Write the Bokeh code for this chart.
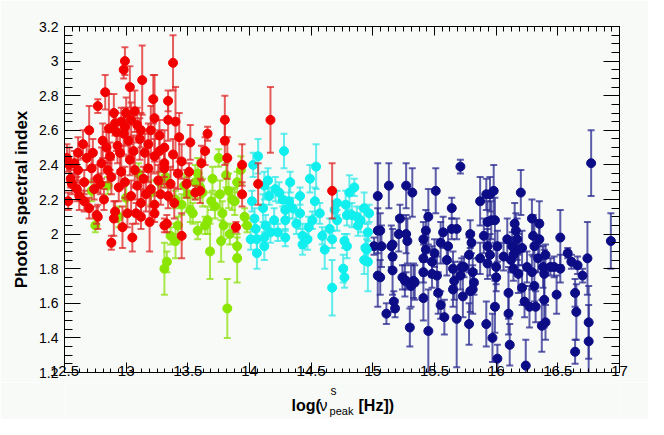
from bokeh.plotting import figure
from bokeh.layouts import column
from bokeh.models import (ColumnDataSource, LinearAxis, SingleIntervalTicker, NumeralTickFormatter,
                          CustomJSTickFormatter, Range1d)
from bokeh.core.properties import value
from bokeh.embed import file_html
from bokeh.resources import INLINE

# ---------------- data ----------------
red_x = [12.52, 12.53, 12.54, 12.56, 12.62, 12.61, 12.65, 12.70, 12.77, 12.83, 12.86, 12.90, 12.98, 12.99,
         13.03, 13.13, 13.22, 13.23, 13.34, 13.34, 13.38, 13.40, 13.43, 13.52, 13.66, 13.64, 13.61, 13.80,
         13.80, 13.82, 13.94, 13.94, 14.07, 14.17, 13.51, 13.56, 13.60, 14.67, 13.89, 12.76, 12.88, 12.97,
         13.05, 13.12, 13.19, 13.31, 13.33, 13.45, 12.90, 13.01, 13.09, 13.18, 13.31, 13.02, 12.92, 12.96,
         13.04, 13.00, 13.07, 12.91, 12.81, 12.73, 13.15, 13.23, 12.80, 12.58, 13.03, 13.31, 13.45, 12.95,
         13.11, 13.20, 13.27, 12.70, 12.77, 12.91, 12.55, 12.66, 12.77, 12.88, 12.99, 13.09, 13.20, 13.28,
         13.34, 13.39, 13.12, 13.23, 12.82, 13.04, 13.16, 12.61, 12.72, 12.85, 12.96, 13.07, 13.18, 13.31,
         13.42, 13.49, 13.08, 13.23, 12.68, 12.93, 12.98, 13.06, 12.87, 12.60, 12.74, 12.94, 13.14, 13.26,
         13.36, 12.84, 13.12, 12.99, 12.79, 13.27, 13.38, 12.66]
red_y = [2.44, 2.19, 2.40, 2.29, 2.22, 2.47, 2.52, 2.60, 2.74, 2.82, 2.61, 2.70, 2.95, 3.00,
         2.85, 2.89, 2.78, 2.67, 2.77, 2.66, 2.99, 2.65, 2.56, 2.53, 2.58, 2.48, 2.41, 2.66,
         2.54, 2.44, 2.40, 2.23, 2.29, 2.66, 2.36, 2.24, 2.25, 2.25, 2.04, 2.11, 1.95, 2.04,
         1.98, 2.10, 2.07, 2.05, 2.06, 1.99, 2.09, 2.12, 2.63, 2.52, 2.50, 2.54, 2.59, 2.65,
         2.66, 2.70, 2.71, 2.64, 2.54, 2.47, 2.47, 2.45, 2.41, 2.41, 2.43, 2.41, 2.42, 2.47,
         2.55, 2.60, 2.57, 2.15, 2.10, 2.13, 2.32, 2.30, 2.32, 2.33, 2.30, 2.28, 2.26, 2.23,
         2.22, 2.18, 2.18, 2.17, 2.20, 2.22, 2.23, 2.37, 2.38, 2.37, 2.36, 2.37, 2.38, 2.38,
         2.35, 2.29, 2.12, 2.12, 2.44, 2.51, 2.58, 2.48, 2.45, 2.26, 2.26, 2.27, 2.32, 2.31,
         2.29, 2.50, 2.60, 2.62, 2.29, 2.48, 2.46, 2.19]
red_err = [0.08, 0.05, 0.10, 0.06, 0.08, 0.09, 0.08, 0.14, 0.04, 0.10, 0.20, 0.11, 0.05, 0.08,
           0.12, 0.20, 0.14, 0.25, 0.06, 0.12, 0.16, 0.20, 0.14, 0.10, 0.04, 0.08, 0.10, 0.14,
           0.14, 0.12, 0.12, 0.07, 0.12, 0.19, 0.05, 0.04, 0.07, 0.16, 0.03, 0.05, 0.04, 0.12,
           0.08, 0.07, 0.17, 0.04, 0.05, 0.13, 0.10, 0.08, 0.10, 0.12, 0.10, 0.09, 0.11, 0.08,
           0.10, 0.09, 0.12, 0.07, 0.10, 0.08, 0.11, 0.10, 0.09, 0.07, 0.09, 0.08, 0.10, 0.10,
           0.12, 0.14, 0.09, 0.06, 0.07, 0.06, 0.05, 0.07, 0.08, 0.10, 0.09, 0.08, 0.10, 0.06,
           0.07, 0.09, 0.08, 0.07, 0.06, 0.09, 0.10, 0.06, 0.08, 0.07, 0.09, 0.10, 0.08, 0.11,
           0.09, 0.08, 0.06, 0.05, 0.07, 0.10, 0.12, 0.09, 0.08, 0.07, 0.06, 0.08, 0.07, 0.09,
           0.10, 0.09, 0.10, 0.11, 0.06, 0.12, 0.09, 0.06]

green_x = [12.75, 12.94, 13.31, 13.33, 13.36, 13.40, 13.42, 13.54, 13.58, 13.64, 13.68, 13.77, 13.79,
           13.82, 13.84, 13.90, 13.90, 13.96, 13.98, 13.78, 13.75, 13.69, 13.76, 13.83, 13.56, 13.90,
           13.81, 13.93, 13.32, 13.50, 13.45, 13.62, 13.52, 13.66, 13.72, 13.86, 13.88, 13.60, 12.72,
           12.85, 13.00, 13.10, 13.20, 13.27, 13.47, 13.58, 13.70, 13.40]
green_y = [2.05, 2.10, 1.80, 1.84, 1.99, 1.96, 2.05, 2.12, 2.02, 2.05, 1.90, 1.96, 2.05,
           1.57, 2.00, 1.93, 1.86, 2.10, 2.05, 2.12, 2.44, 2.19, 2.23, 2.25, 2.30, 2.30,
           2.34, 2.37, 2.33, 2.23, 2.17, 2.24, 2.14, 2.08, 2.16, 2.20, 2.19, 2.27, 2.25,
           2.28, 2.21, 2.35, 2.24, 2.30, 2.28, 2.35, 2.32, 2.20]
green_err = [0.04, 0.06, 0.15, 0.06, 0.05, 0.10, 0.05, 0.06, 0.05, 0.05, 0.16, 0.12, 0.08,
             0.17, 0.06, 0.05, 0.14, 0.05, 0.04, 0.07, 0.05, 0.05, 0.08, 0.10, 0.10, 0.06,
             0.07, 0.08, 0.06, 0.10, 0.06, 0.08, 0.07, 0.08, 0.07, 0.06, 0.08, 0.06, 0.06,
             0.05, 0.08, 0.06, 0.07, 0.06, 0.07, 0.09, 0.07, 0.05]

cyan_x = [14.07, 14.03, 14.28, 14.54, 14.49, 14.12, 14.21, 14.24, 14.32, 14.41, 14.53, 14.02, 14.11,
          14.29, 14.41, 14.57, 14.20, 14.04, 14.13, 14.29, 14.05, 14.17, 14.23, 14.48, 14.01, 14.06,
          14.12, 14.29, 14.43, 14.47, 14.59, 14.43, 14.12, 14.06, 14.61, 14.67, 14.65, 14.67, 14.71,
          14.71, 14.69, 14.76, 14.77, 14.77, 14.79, 14.78, 14.79, 14.81, 14.85, 14.83, 14.87, 14.90,
          14.88, 14.93, 14.95, 14.96, 14.93, 14.97, 14.96, 14.94, 14.16, 14.27, 14.35, 14.38, 14.51,
          14.15, 14.33]
cyan_y = [2.45, 2.40, 2.48, 2.39, 2.32, 2.28, 2.26, 2.24, 2.19, 2.22, 2.19, 2.19, 2.15,
          2.14, 2.12, 2.12, 2.08, 2.09, 2.05, 2.08, 2.03, 2.01, 2.01, 2.04, 1.97, 1.97,
          1.98, 1.98, 1.99, 1.97, 1.99, 1.94, 1.93, 1.89, 1.91, 1.69, 2.03, 1.97, 2.18,
          2.08, 2.14, 1.80, 1.75, 1.96, 1.93, 2.17, 2.11, 2.24, 2.27, 2.11, 2.10, 2.08,
          2.05, 2.15, 1.91, 1.84, 1.85, 2.12, 2.01, 1.92, 2.22, 2.20, 2.15, 2.06, 2.08,
          2.31, 2.30]
cyan_err = [0.10, 0.07, 0.10, 0.13, 0.08, 0.08, 0.07, 0.06, 0.10, 0.05, 0.08, 0.06, 0.08,
            0.07, 0.09, 0.06, 0.07, 0.06, 0.06, 0.06, 0.05, 0.06, 0.05, 0.06, 0.06, 0.07,
            0.06, 0.05, 0.07, 0.06, 0.05, 0.06, 0.08, 0.09, 0.11, 0.16, 0.06, 0.05, 0.07,
            0.06, 0.05, 0.08, 0.06, 0.04, 0.07, 0.08, 0.06, 0.10, 0.05, 0.07, 0.06, 0.07,
            0.06, 0.09, 0.06, 0.17, 0.08, 0.05, 0.05, 0.07, 0.05, 0.04, 0.06, 0.06, 0.05,
            0.07, 0.06]

navy_x = [15.04, 15.13, 15.04, 15.06, 15.01, 15.07, 15.04, 15.06, 15.11, 15.15, 15.16, 15.16, 15.17,
          15.18, 15.22, 15.21, 15.24, 15.27, 15.28, 15.27, 15.30, 15.32, 15.33, 15.31, 15.41, 15.41,
          15.41, 15.41, 15.43, 15.45, 15.45, 15.43, 15.48, 15.50, 15.51, 15.52, 15.53, 15.55, 15.57,
          15.58, 15.55, 15.60, 15.61, 15.64, 15.64, 15.65, 15.66, 15.68, 15.68, 15.71, 15.71, 15.72,
          15.73, 15.74, 15.79, 15.78, 15.79, 15.80, 15.81, 15.81, 15.82, 15.87, 15.87, 15.90, 15.92,
          15.93, 15.93, 15.93, 15.95, 15.95, 15.97, 15.98, 15.99, 15.99, 16.01, 16.01, 16.06, 16.09,
          16.10, 16.10, 16.11, 16.13, 16.14, 16.14, 16.16, 16.17, 16.18, 16.18, 16.20, 16.21, 16.23,
          16.24, 16.27, 16.29, 16.30, 16.31, 16.31, 16.32, 16.35, 16.37, 16.38, 16.39, 16.39, 16.40,
          16.40, 16.44, 16.47, 16.49, 16.52, 16.52, 16.58, 16.61, 16.64, 16.65, 16.64, 16.66, 16.70,
          16.74, 16.75, 16.75, 16.77, 16.93, 15.48, 15.65, 15.78, 16.00, 16.00, 15.92, 15.96, 16.12,
          16.15, 16.21, 16.25, 16.29, 16.34, 16.35, 15.16, 15.27, 15.26, 15.34]
navy_y = [2.22, 2.28, 2.02, 2.02, 1.93, 1.93, 1.76, 1.75, 1.54, 1.93, 1.87, 1.79, 1.61,
          1.57, 2.09, 2.00, 1.75, 2.28, 1.96, 1.73, 1.46, 2.24, 1.73, 1.70, 1.63, 1.97,
          1.86, 1.78, 2.02, 2.10, 1.44, 1.91, 1.84, 1.89, 2.25, 1.76, 1.66, 1.59, 2.01,
          1.52, 1.95, 1.85, 1.93, 2.15, 2.03, 1.80, 1.73, 2.03, 1.51, 2.39, 1.76, 1.81,
          1.64, 1.81, 2.00, 1.88, 1.67, 1.95, 1.78, 1.68, 1.72, 2.19, 1.86, 1.99, 1.48,
          2.07, 1.93, 1.83, 2.23, 1.88, 1.40, 2.25, 2.08, 1.58, 1.93, 1.28, 1.87, 1.97,
          1.66, 1.54, 1.36, 1.93, 1.80, 1.88, 2.02, 1.97, 1.91, 1.77, 2.24, 1.69, 1.61,
          1.24, 1.58, 2.09, 1.99, 1.93, 1.70, 1.58, 2.06, 1.47, 1.81, 1.77, 1.62, 1.88,
          1.49, 1.81, 1.81, 1.65, 1.98, 1.80, 1.89, 1.84, 1.66, 1.55, 1.32, 1.82, 1.76,
          1.86, 1.49, 1.38, 2.41, 1.96, 1.77, 1.68, 1.48, 1.81, 1.75, 2.23, 2.08, 1.85,
          2.06, 1.92, 1.81, 1.78, 1.86, 1.97, 1.94, 2.00, 1.73, 1.72]
navy_err = [0.19, 0.13, 0.13, 0.10, 0.05, 0.12, 0.18, 0.10, 0.06, 0.12, 0.08, 0.14, 0.06,
            0.05, 0.08, 0.10, 0.07, 0.13, 0.13, 0.05, 0.11, 0.14, 0.10, 0.12, 0.13, 0.10,
            0.08, 0.06, 0.12, 0.16, 0.24, 0.07, 0.09, 0.08, 0.13, 0.11, 0.12, 0.08, 0.09,
            0.10, 0.12, 0.09, 0.08, 0.06, 0.06, 0.10, 0.11, 0.06, 0.28, 0.04, 0.08, 0.05,
            0.12, 0.06, 0.08, 0.10, 0.12, 0.06, 0.08, 0.14, 0.07, 0.14, 0.09, 0.10, 0.13,
            0.12, 0.10, 0.09, 0.10, 0.12, 0.14, 0.15, 0.13, 0.15, 0.09, 0.08, 0.08, 0.12,
            0.15, 0.12, 0.12, 0.08, 0.07, 0.10, 0.10, 0.12, 0.09, 0.11, 0.13, 0.10, 0.09,
            0.15, 0.12, 0.11, 0.12, 0.15, 0.09, 0.09, 0.13, 0.15, 0.12, 0.14, 0.16, 0.06,
            0.10, 0.05, 0.06, 0.11, 0.16, 0.08, 0.03, 0.04, 0.08, 0.16, 0.07, 0.05, 0.04,
            0.21, 0.21, 0.21, 0.19, 0.16, 0.08, 0.10, 0.12, 0.10, 0.08, 0.09, 0.11, 0.07,
            0.12, 0.10, 0.09, 0.10, 0.08, 0.11, 0.09, 0.11, 0.09, 0.10]

x_axis_title = ["log(", "\u03bd", "s", "peak", "[Hz])"]
y_axis_title = "Photon spectral index"

# ---------------- figure ----------------
BG = "#f8faf8"
FONT = "Liberation Sans"
X0, X1, Y0, Y1 = 12.5, 17.0, 1.2, 3.2
W = 648
H_MAIN = 382
H_TITLE = 37
BL, BR = 64, 29          # left / right borders shared by both rows

p = figure(width=W, height=H_MAIN, output_backend="svg", toolbar_location=None,
           x_range=Range1d(X0, X1), y_range=Range1d(Y0, Y1),
           min_border_left=BL, min_border_right=BR, min_border_top=26, min_border_bottom=10,
           background_fill_color=BG, border_fill_color=BG,
           x_axis_location=None, y_axis_location=None)
p.grid.visible = False
p.outline_line_color = "black"
p.outline_line_width = 1

xt = SingleIntervalTicker(interval=0.5, num_minor_ticks=8)
yt = SingleIntervalTicker(interval=0.2, num_minor_ticks=4)
fmt = NumeralTickFormatter(format="0.[0]")
blank = CustomJSTickFormatter(code="return ''")


def style_axis(ax, major, minor, labels):
    ax.major_tick_in = major
    ax.major_tick_out = 0
    ax.minor_tick_in = minor
    ax.minor_tick_out = 0
    ax.major_tick_line_color = "black"
    ax.minor_tick_line_color = "black"
    ax.axis_line_color = "black"
    if labels:
        ax.major_label_text_font = FONT
        ax.major_label_text_font_size = "15px"
        ax.major_label_text_color = "black"
    else:
        ax.major_label_standoff = 0


bottom = LinearAxis(ticker=xt, formatter=fmt)
style_axis(bottom, 10, 4, True)
bottom.major_label_standoff = -7
p.add_layout(bottom, "below")

top = LinearAxis(ticker=xt, formatter=blank)
style_axis(top, 9, 5, False)
p.add_layout(top, "above")

left = LinearAxis(ticker=yt, formatter=fmt, axis_label=y_axis_title)
style_axis(left, 16, 8, True)
left.major_label_text_font_size = "14px"
left.major_label_standoff = 6
left.axis_label_text_font = FONT
left.axis_label_text_font_style = "bold"
left.axis_label_text_font_size = "17px"
left.axis_label_text_color = "black"
left.axis_label_standoff = 5
p.add_layout(left, "left")

right = LinearAxis(ticker=yt, formatter=blank)
style_axis(right, 16, 8, False)
p.add_layout(right, "right")

groups = [
    (navy_x, navy_y, navy_err, "#0c0c86", "#2a2a90"),
    (cyan_x, cyan_y, cyan_err, "#10eeee", "#30e8e8"),
    (green_x, green_y, green_err, "#8ae600", "#8ee010"),
    (red_x, red_y, red_err, "#f20000", "#e02828"),
]
for gx, gy, ge, col, ecol in groups:
    src = ColumnDataSource(dict(x=gx, y=gy,
                                lo=[a - b for a, b in zip(gy, ge)],
                                hi=[a + b for a, b in zip(gy, ge)]))
    p.segment(x0="x", y0="lo", x1="x", y1="hi", source=src, line_color=ecol, line_width=2, line_alpha=0.75)
    p.scatter(x="x", y="lo", source=src, marker="dash", size=7, line_color=ecol, line_width=2, line_alpha=0.75)
    p.scatter(x="x", y="hi", source=src, marker="dash", size=7, line_color=ecol, line_width=2, line_alpha=0.75)
    p.scatter(x="x", y="y", source=src, marker="circle", size=9, fill_color=col, line_color=col)

# ---- x-axis title strip: shares the x axis of the chart; y in pixels downward ----
t = figure(width=W, height=H_TITLE, output_backend="svg", toolbar_location=None,
           x_range=p.x_range, y_range=Range1d(H_TITLE, 0),
           min_border_left=BL, min_border_right=BR, min_border_top=0, min_border_bottom=0,
           background_fill_color=BG, border_fill_color=BG,
           x_axis_location=None, y_axis_location=None)
t.grid.visible = False
t.outline_line_color = None

pieces = [
    (x_axis_title[0], 14.34, 23, "16px", "bold"),
    (x_axis_title[1], 14.568, 23, "16px", "normal"),
    (x_axis_title[2], 14.657, 8, "12px", "normal"),
    (x_axis_title[3], 14.649, 28, "11px", "normal"),
    (x_axis_title[4], 14.884, 23, "16px", "bold"),
]
for txt, xx, py, fs, st in pieces:
    t.text(x=[xx], y=[py], text=[txt], text_font=value(FONT), text_font_size=fs,
           text_font_style=st, text_color="black", text_align="left", text_baseline="alphabetic")

layout = column(p, t, spacing=0)
open("out.html", "w").write(file_html(layout, INLINE))
